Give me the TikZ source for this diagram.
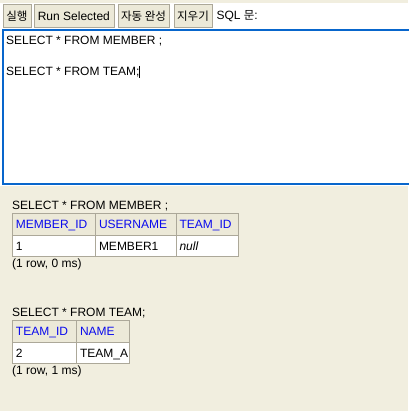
\documentclass[tikz,border=0pt]{standalone}
\usepackage{fontspec}
\setmainfont{Liberation Sans}
\newfontfamily\kofont{Noto Sans CJK KR}
\usetikzlibrary{positioning,matrix}

\definecolor{pagebg}{HTML}{F1EEDF}
\definecolor{btnfill}{HTML}{ECE9D8}
\definecolor{btnline}{HTML}{ACA899}
\definecolor{editblue}{HTML}{0866CC}
\definecolor{hdrblue}{HTML}{0A0AEE}

\begin{document}
\begin{tikzpicture}[
x=1pt, y=-1pt,
font=\fontsize{12}{14}\selectfont,
ko/.style={
  font=\kofont\fontsize{11.5}{13}\selectfont
  },
btn/.style={
  draw=btnline,
  fill=btnfill,
  minimum height=22.3pt,
  inner sep=0pt,
  outer sep=0pt
  },
txt/.style={
  inner sep=0pt,
  anchor=base west
  },
tbl/.style={
  matrix of nodes,
  anchor=north west,
  inner sep=0pt,
  outer sep=0pt,
  nodes={
    draw=btnline,
    line width=1pt,
    fill=white,
    inner xsep=3.5pt,
    inner ysep=0pt,
    outer sep=0pt,
    minimum height=21.5pt,
    text height=8.6pt,
    text depth=0pt,
    align=left,
    anchor=center
    },
  column sep=-1pt,
  row sep=-1pt,
  row 1/.style={nodes={fill=btnfill, text=hdrblue}}
  }
]

\useasboundingbox (0,0) rectangle (408,411);
\fill[pagebg] (0,0) rectangle (408,411);
\fill[white] (0,3) rectangle (408,186);

% toolbar
\node[btn, ko, anchor=north west, minimum width=28.3pt] (exec) at (2.7,4.7) {실행};
\node[btn, minimum width=79.7pt, right=3pt of exec] (run) {Run Selected};
\node[btn, ko, minimum width=51.6pt, right=4pt of run] (auto) {자동 완성};
\node[btn, ko, minimum width=38.6pt, right=4.4pt of auto] (clear) {지우기};
\node[inner sep=0pt, right=4pt of clear] (label) {SQL {\kofont\fontsize{11.5}{13}\selectfont 문}:};

% editor
\draw[editblue, line width=2pt] (3,30) rectangle (412,184);
\node[txt] (sql1) at (6,44.5) {SELECT * FROM MEMBER ;};
\node[txt, text height=10pt, text depth=2pt] (sql2) at (6,76) {SELECT * FROM TEAM;};
\draw[line width=0.8pt] (sql2.north east) -- (sql2.south east);

% results
\node[txt] (memq) at (12,210) {SELECT * FROM MEMBER ;};
\matrix[tbl,
  column 1/.style={nodes={text width=76pt}},
  column 2/.style={nodes={text width=73.5pt}},
  column 3/.style={nodes={text width=55.5pt}}
] (mem) at (12,213)
{
MEMBER\_ID & USERNAME & TEAM\_ID \\
1 & MEMBER1 & \textit{null} \\
};
\node[txt] (memr) at (12,267) {(1 row, 0 ms)};

\node[txt] (teamq) at (12,316) {SELECT * FROM TEAM;};
\matrix[tbl,
  column 1/.style={nodes={text width=57pt}},
  column 2/.style={nodes={text width=46pt}}
] (team) at (12,320)
{
TEAM\_ID & NAME \\
2 & TEAM\_A \\
};
\node[txt] (teamr) at (12,374) {(1 row, 1 ms)};

\end{tikzpicture}
\end{document}
